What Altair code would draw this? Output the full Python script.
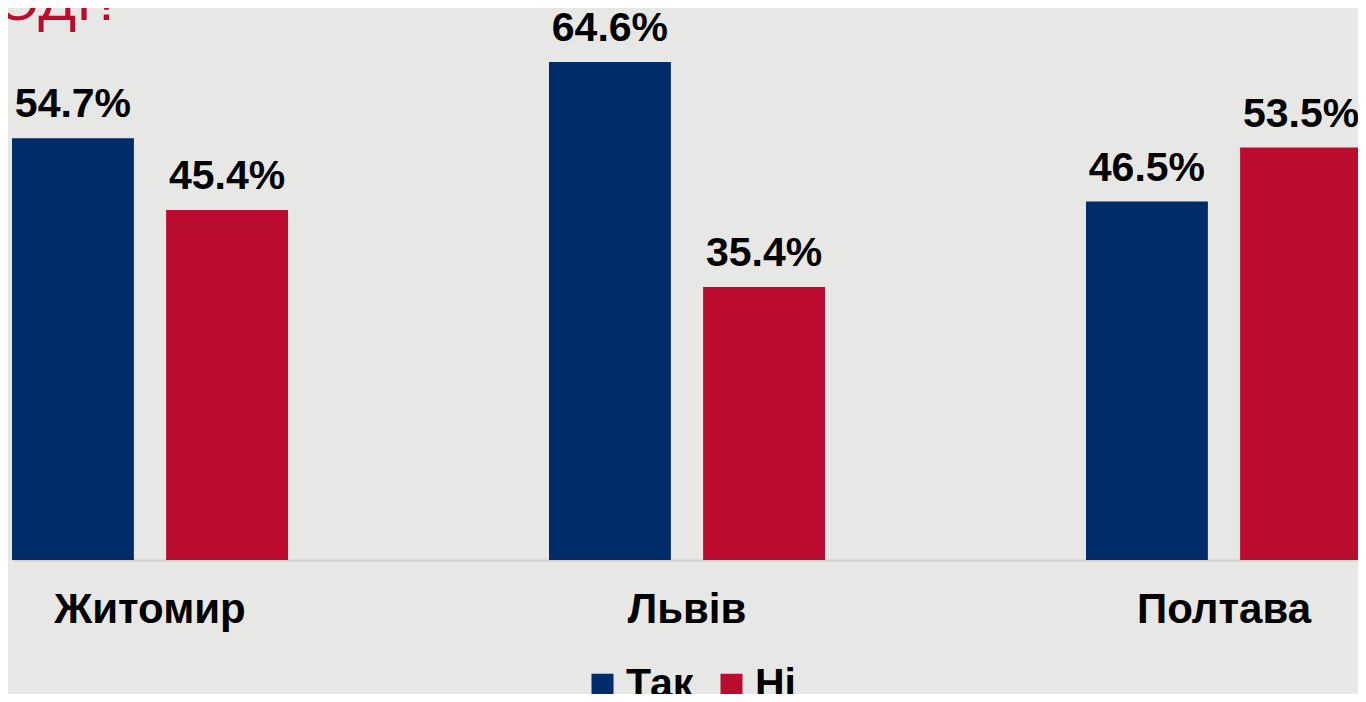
import altair as alt
import pandas as pd

cities = ["Житомир", "Львів", "Полтава"]
answers = ["Так", "Ні"]
tak = [54.7, 64.6, 46.5]
ni = [45.4, 35.4, 53.5]
title_fragment = "ОДІ?"
colors = ["#002d6a", "#ba0c2f"]

rows = []
for c, a, b in zip(cities, tak, ni):
    rows.append({"city": c, "answer": "Так", "value": a})
    rows.append({"city": c, "answer": "Ні", "value": b})
df = pd.DataFrame(rows)
df["label"] = df["value"].map(lambda v: f"{v:.1f}%")

FONT = "Liberation Sans, Arial, sans-serif"

x_enc = alt.X(
    "city:N",
    sort=cities,
    scale=alt.Scale(paddingInner=0.486, paddingOuter=0, range=[4, 1354], round=False),
    axis=alt.Axis(
        title=None,
        labelAngle=0,
        labelFont=FONT,
        labelFontSize=42,
        labelFontWeight="bold",
        labelColor="#000000",
        labelBaseline="alphabetic",
        labelPadding=62,
        labelLimit=500,
        ticks=False,
        tickSize=0,
        domainColor="#d2d2d2",
        domainWidth=2,
        grid=False,
    ),
)
xoff = alt.XOffset("answer:N", sort=answers, scale=alt.Scale(paddingInner=0.209, paddingOuter=0))
y_enc = alt.Y("value:Q", scale=alt.Scale(domain=[0, 71.6], nice=False, zero=True), axis=None)

bars = alt.Chart(df).mark_bar().encode(
    x=x_enc,
    xOffset=xoff,
    y=y_enc,
    color=alt.Color(
        "answer:N",
        sort=answers,
        scale=alt.Scale(domain=answers, range=colors),
        legend=alt.Legend(
            title=None,
            orient="none",
            legendX=574,
            legendY=656,
            direction="horizontal",
            symbolType="square",
            symbolSize=484,
            symbolStrokeWidth=0,
            labelFont=FONT,
            labelFontSize=41,
            labelFontWeight="bold",
            labelColor="#000000",
            labelOffset=3,
            columnPadding=17,
        ),
    ),
)

labels = alt.Chart(df).mark_text(
    font=FONT, fontSize=41, fontWeight="bold", color="#000000",
    baseline="alphabetic", align="center", dy=-21,
).encode(
    x=alt.X("city:N", sort=cities),
    xOffset=alt.XOffset("answer:N", sort=answers),
    y=alt.Y("value:Q"),
    text="label:N",
)

title_df = pd.DataFrame({"t": [title_fragment]})
title = alt.Chart(title_df).mark_text(
    font=FONT, fontSize=56, color="#ba0c2f", align="right", baseline="alphabetic",
).encode(x=alt.value(115), y=alt.value(12), text="t:N")

chart = alt.layer(bars, labels, title).properties(
    width=1350,
    height=552,
    autosize=alt.AutoSizeParams(type="none"),
    padding={"left": 0, "top": 0, "right": 0, "bottom": 134},
    background="#e7e7e6",
).configure_view(stroke=None)

chart.save("out.html", embed_options={"renderer": "svg", "actions": False})
